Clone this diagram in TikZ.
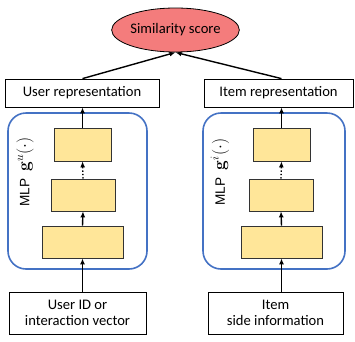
\documentclass[tikz,border=0pt]{standalone}
\usepackage{fontspec}
\setmainfont{Carlito}
\newfontfamily\labelfont{Liberation Sans}
\usetikzlibrary{arrows.meta,shapes.geometric}
\definecolor{simred}{HTML}{F47C7C}
\definecolor{layeryellow}{HTML}{FFE699}
\definecolor{towerblue}{HTML}{4472C4}
\newcommand{\mlpfn}[1]{{\fontsize{17}{18}\selectfont$\boldsymbol{\mathbf{g}}^{#1}(\cdot)$}}
\usepackage{amsmath}
\begin{document}
\begin{tikzpicture}[x=1pt,y=-1pt,
  txt/.style={font=\fontsize{14.6}{16.5}\selectfont},
  plainbox/.style={draw=black,line width=0.8pt,fill=white,txt,inner sep=0pt,align=center},
  layer/.style={draw=black!80,line width=0.8pt,fill=layeryellow,inner sep=0pt},
  tower/.style={draw=towerblue,line width=1.6pt,rounded corners=18pt,inner sep=0pt},
  mlplabel/.style={rotate=90,inner sep=0pt,font=\labelfont\fontsize{13.6}{15}\selectfont},
  arr/.style={line width=1.4pt,-{Latex[length=6pt,width=5pt]}},
  dotarr/.style={line width=1.4pt,dotted,-{Latex[length=6pt,width=5pt]}}]
\useasboundingbox (0,0) rectangle (355,341);

% output node
\node[ellipse,draw=black,line width=0.8pt,fill=simred,minimum width=108pt,minimum height=44pt,inner sep=0pt,txt] (sim) at (175.5,30) {Similarity score};

% representation boxes
\node[plainbox,minimum width=154pt,minimum height=28pt] (urep) at (82,93) {User representation};
\node[plainbox,minimum width=149pt,minimum height=28pt] (irep) at (278.5,93) {Item representation};

% MLP towers
\node[tower,minimum width=139pt,minimum height=156pt] (towL) at (77.5,191) {};
\node[tower,minimum width=142pt,minimum height=156pt] (towR) at (274,191) {};

\node[mlplabel] (mlpL) at (25,172) {MLP\ \ \mlpfn{u}};
\node[mlplabel] (mlpR) at (220,172) {MLP\ \ \mlpfn{i}};

% layers, left tower
\node[layer,minimum width=57pt,minimum height=33pt] (ltL) at (82.5,144.5) {};
\node[layer,minimum width=64pt,minimum height=32pt] (lmL) at (83,195) {};
\node[layer,minimum width=81pt,minimum height=32pt] (lbL) at (82.5,242) {};
% layers, right tower
\node[layer,minimum width=57pt,minimum height=33pt] (ltR) at (281.5,144.5) {};
\node[layer,minimum width=64pt,minimum height=32pt] (lmR) at (281,195) {};
\node[layer,minimum width=81pt,minimum height=32pt] (lbR) at (281.5,242) {};

% inputs
\node[plainbox,minimum width=137pt,minimum height=42pt] (inL) at (77.5,313) {User ID or\\interaction vector};
\node[plainbox,minimum width=135pt,minimum height=42pt] (inR) at (275.5,313) {Item\\side information};

% connectors
\draw[arr] (lbL.south |- inL.north) -- (lbL.south);
\draw[arr] (lbL.north) -- (lmL.south);
\draw[dotarr] (lmL.north) -- (ltL.south);
\draw[arr] (ltL.north) -- (ltL.north |- urep.south);
\draw[arr] (ltL.north |- urep.north) -- (sim.south);

\draw[arr] (lbR.south |- inR.north) -- (lbR.south);
\draw[arr] (lbR.north) -- (lmR.south);
\draw[dotarr] (lmR.north) -- (ltR.south);
\draw[arr] (ltR.north) -- (ltR.north |- irep.south);
\draw[arr] (ltR.north |- irep.north) -- (sim.south);
\end{tikzpicture}
\end{document}
